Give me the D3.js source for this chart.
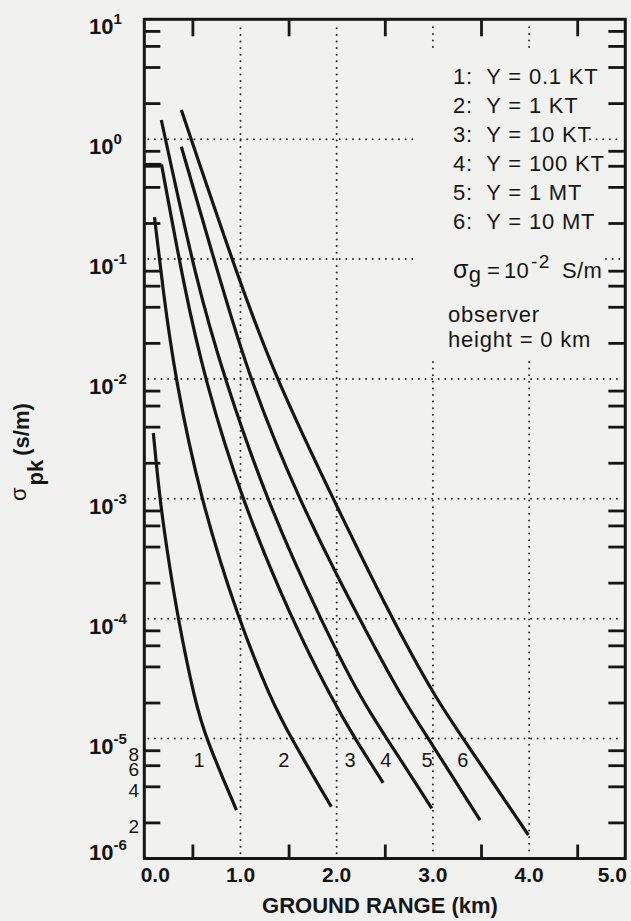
<!DOCTYPE html>
<html>
<head>
<meta charset="utf-8">
<script src="https://cdn.jsdelivr.net/npm/d3@7"></script>
<style>
  html, body { margin: 0; padding: 0; background: #f1f1ef; }
  svg { display: block; }
  text { font-family: "Liberation Sans", Arial, Helvetica, sans-serif; fill: #161616; }
</style>
</head>
<body>
<svg id="chart" width="631" height="921"></svg>
<script>
// Peak air conductivity vs ground range for six weapon yields
const yields = ["0.1 KT", "1 KT", "10 KT", "100 KT", "1 MT", "10 MT"];

// ground range (km) and sigma_pk (S/m) along each curve
const range1 = [0.094, 0.160, 0.246, 0.350, 0.524, 0.641, 0.958];
const sigma1 = [3.54e-3, 1.0e-3, 3.3e-4, 1.0e-4, 2.09e-5, 1.0e-5, 2.53e-6];

const range2 = [0.106, 0.194, 0.322, 0.584, 0.974, 1.320, 1.528, 1.944];
const sigma2 = [0.224, 5.52e-2, 1.0e-2, 1.0e-3, 1.0e-4, 2.09e-5, 1.0e-5, 2.70e-6];

const range3 = [0.0, 0.179, 0.420, 0.628, 1.008, 1.528, 1.956, 2.190, 2.483];
const sigma3 = [0.615, 0.615, 5.52e-2, 1.0e-2, 1.0e-3, 1.0e-4, 2.09e-5, 1.0e-5, 4.28e-6];

const range4 = [0.177, 0.548, 0.836, 1.265, 1.826, 2.259, 2.523, 2.988];
const sigma4 = [1.445, 6.07e-2, 1.0e-2, 1.0e-3, 1.0e-4, 2.09e-5, 1.0e-5, 2.62e-6];

const range5 = [0.385, 0.802, 1.096, 1.598, 2.232, 2.692, 2.954, 3.490];
const sigma5 = [0.865, 6.07e-2, 1.0e-2, 1.0e-3, 1.0e-4, 2.09e-5, 1.0e-5, 2.09e-6];

const range6 = [0.385, 1.000, 1.372, 1.962, 2.572, 3.040, 3.316, 3.992];
const sigma6 = [1.75, 6.07e-2, 1.0e-2, 1.0e-3, 1.0e-4, 2.09e-5, 1.0e-5, 1.57e-6];

// where each curve's number is written
const curveLabelRange = [0.57, 1.45, 2.14, 2.51, 2.94, 3.31];
const curveLabelSigma = 5.85e-6;

// axes
const xMajorTicks = [0, 1, 2, 3, 4, 5];
const xTickLabels = ["0.0", "1.0", "2.0", "3.0", "4.0", "5.0"];
const xMinorTicks = [0.5, 1.5, 2.5, 3.5, 4.5];
const decadeExponents = [1, 0, -1, -2, -3, -4, -5, -6];
const minorMultipliers = [2, 4, 6, 8];
const labelledMinorDecade = -6;

const svg = d3.select("#chart");
const x = d3.scaleLinear().domain([0, 5]).range([144.3, 625.3]);
const y = d3.scaleLog().domain([1e-6, 10]).range([858.5, 19.3]);
const [x0, x1] = x.range();
const yBot = y.range()[0], yTop = y.range()[1];

const ink = "#161616";

// ---- dotted grid ----
const dotted = sel => sel.attr("stroke", "#2a2a2a").attr("stroke-width", 2)
  .attr("stroke-linecap", "round").attr("stroke-dasharray", "0 6.6").attr("fill", "none");

const grid = svg.append("g");
// horizontal lines at each interior decade; the two top ones are interrupted by the legend text
const legendLeft = 416;
const hGrid = [
  { v: 1, segs: [[x0 + 4, legendLeft], [590, x1 - 3]] },
  { v: 0.1, segs: [[x0 + 4, legendLeft], [606, x1 - 3]] },
  { v: 1e-2, segs: [[x0 + 4, x1 - 3]] },
  { v: 1e-3, segs: [[x0 + 4, x1 - 3]] },
  { v: 1e-4, segs: [[x0 + 4, x1 - 3]] },
  { v: 1e-5, segs: [[x0 + 4, x1 - 3]] }
];
hGrid.forEach(g => g.segs.forEach(s => {
  grid.append("line").attr("x1", s[0]).attr("x2", s[1])
    .attr("y1", y(g.v)).attr("y2", y(g.v)).call(dotted);
}));
// vertical lines at whole kilometres; 3 and 4 km pass behind the legend
const legendBottom = 362;
[1, 2, 3, 4].forEach(k => {
  const segs = k <= 2 ? [[yTop + 9, yBot - 2]] : [[yTop + 8, yTop + 31], [legendBottom, yBot - 2]];
  segs.forEach(s => grid.append("line").attr("x1", x(k)).attr("x2", x(k))
    .attr("y1", s[0]).attr("y2", s[1]).call(dotted));
});

// ---- curves ----
const series = [
  [range1, sigma1], [range2, sigma2], [range3, sigma3],
  [range4, sigma4], [range5, sigma5], [range6, sigma6]
].map(([r, s]) => r.map((d, i) => [d, s[i]]));

const smooth = d3.line().x(d => x(d[0])).y(d => y(d[1])).curve(d3.curveBasis);
const straight = d3.line().x(d => x(d[0])).y(d => y(d[1]));

const curves = svg.append("g").attr("fill", "none").attr("stroke", ink)
  .attr("stroke-width", 3.2).attr("stroke-linecap", "butt").attr("stroke-linejoin", "miter");
series.forEach(pts => {
  // a flat plateau at the start is drawn straight, then the fall-off smoothly
  let k = 1;
  while (k < pts.length && pts[k][1] === pts[0][1]) k++;
  if (k > 1) curves.append("path").attr("d", straight(pts.slice(0, k)));
  curves.append("path").attr("d", smooth(pts.slice(k - 1)));
});

// curve numbers
svg.append("g").selectAll("text").data(curveLabelRange).join("text")
  .attr("x", d => x(d)).attr("y", y(curveLabelSigma))
  .attr("text-anchor", "middle").attr("font-size", 20)
  .text((d, i) => i + 1);

// ---- axes: inward minor ticks on all four sides ----
const yMinor = decadeExponents.flatMap(e => minorMultipliers.map(m => m * Math.pow(10, e)))
  .filter(v => v >= 1e-6 && v < 10);

const styleAxis = g => {
  g.select(".domain").remove();
  g.selectAll(".tick line").attr("stroke", ink).attr("stroke-width", 2.8);
  g.selectAll(".tick text").remove();
};
svg.append("g").attr("transform", `translate(${x0},0)`)
  .call(d3.axisLeft(y).tickValues(yMinor).tickSize(-16).tickFormat("")).call(styleAxis);
svg.append("g").attr("transform", `translate(${x1},0)`)
  .call(d3.axisRight(y).tickValues(yMinor).tickSize(-17).tickFormat("")).call(styleAxis);
svg.append("g").attr("transform", `translate(0,${yTop})`)
  .call(d3.axisTop(x).tickValues(xMinorTicks).tickSize(-17).tickFormat("")).call(styleAxis);
svg.append("g").attr("transform", `translate(0,${yBot})`)
  .call(d3.axisBottom(x).tickValues(xMinorTicks).tickSize(-14).tickFormat("")).call(styleAxis);

// frame
svg.append("rect").attr("x", x0).attr("y", yTop).attr("width", x1 - x0).attr("height", yBot - yTop)
  .attr("fill", "none").attr("stroke", ink).attr("stroke-width", 3);

// ---- y tick labels (powers of ten) ----
const yLab = svg.append("g").attr("font-weight", "bold");
decadeExponents.forEach(e => {
  const t = yLab.append("text").attr("x", 89)
    .attr("y", Math.min(y(Math.pow(10, e)) + 15, yBot + 1)).attr("font-size", 22);
  t.append("tspan").text("10");
  t.append("tspan").attr("dy", -10).attr("font-size", 15).text(String(e));
});
// the bottom decade carries its 2-4-6-8 subdivisions
svg.append("g").selectAll("text")
  .data(minorMultipliers.map(m => m * Math.pow(10, labelledMinorDecade)))
  .join("text")
  .attr("x", 139).attr("y", d => y(d) + 11).attr("text-anchor", "end")
  .attr("font-size", 19).text(d => Math.round(d / Math.pow(10, labelledMinorDecade)));

// ---- x tick labels ----
svg.append("g").attr("font-weight", "bold").selectAll("text").data(xMajorTicks).join("text")
  .attr("x", d => Math.min(Math.max(x(d), x0 + 11), x1 - 13))
  .attr("y", 882).attr("text-anchor", "middle").attr("font-size", 21)
  .text((d, i) => xTickLabels[i]);

// axis titles
svg.append("text").attr("x", 380).attr("y", 913).attr("text-anchor", "middle")
  .attr("font-size", 22).attr("font-weight", "bold").text("GROUND RANGE (km)");

const yt = svg.append("text").attr("transform", "translate(29,501) rotate(-90)")
  .attr("font-size", 22).attr("font-weight", "bold");
yt.append("tspan").attr("font-weight", "normal").attr("dy", -3).text("σ");
yt.append("tspan").attr("dx", 2).attr("dy", 17).text("pk");
yt.append("tspan").attr("dx", 4).attr("dy", -14).text("(s/m)");

// ---- legend ----
const legend = svg.append("g").attr("font-size", 22).attr("letter-spacing", 0.8);
yields.forEach((d, i) => {
  legend.append("text").attr("x", 453).attr("y", 83.5 + i * 29)
    .text(`${i + 1}:\u00A0 Y = ${d}`);
});
const sg = legend.append("text").attr("x", 453).attr("y", 278).attr("letter-spacing", 0.3);
sg.append("tspan").attr("font-size", 25).text("σ");
sg.append("tspan").attr("dy", 4).text("g");
sg.append("tspan").attr("x", 487).attr("dy", -4).text("=");
sg.append("tspan").attr("x", 504).text("10");
sg.append("tspan").attr("x", 531).attr("dy", -10).attr("font-size", 19).attr("letter-spacing", 1.5).text("-2");
sg.append("tspan").attr("x", 562).attr("dy", 10).text("S/m");
legend.append("text").attr("x", 448).attr("y", 322).text("observer");
legend.append("text").attr("x", 448).attr("y", 347).text("height = 0 km");
</script>
</body>
</html>
